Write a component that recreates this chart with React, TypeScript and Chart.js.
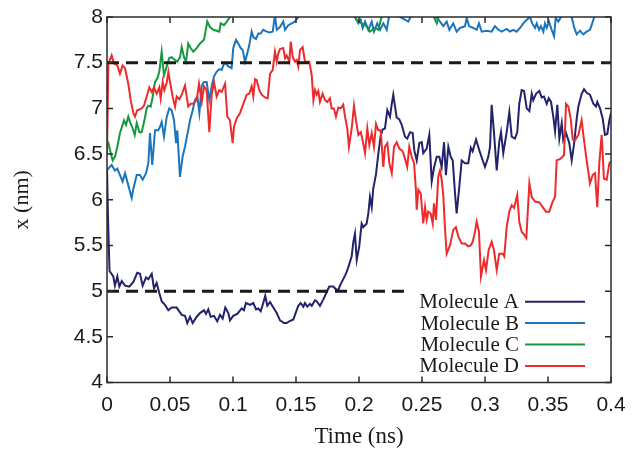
import React, { useEffect, useRef } from 'react';
import { Chart, registerables } from 'chart.js';

Chart.register(...registerables);

// ---- data: [time (ns), x (nm)] ----
const moleculeA: [number, number][] = [
  [0, 6.35], [0.0008, 5.8], [0.002, 5.22], [0.005, 5.16], [0.0063, 5.06], [0.0082, 5.16], [0.0098, 5.05], [0.0117, 5.11],
  [0.0143, 5.06], [0.0177, 5.05], [0.0209, 5.1], [0.024, 5.2], [0.0262, 5.19], [0.0283, 5.06], [0.031, 5.15], [0.0328, 5.13],
  [0.0355, 5.19], [0.0373, 5.03], [0.0394, 5.09], [0.0415, 4.98], [0.0434, 4.89], [0.046, 4.85], [0.0487, 4.79], [0.0513, 4.82],
  [0.0553, 4.82], [0.0593, 4.74], [0.0619, 4.73], [0.0637, 4.65], [0.0659, 4.72], [0.068, 4.65], [0.0712, 4.72], [0.0738, 4.76],
  [0.077, 4.79], [0.0786, 4.75], [0.0804, 4.8], [0.0823, 4.72], [0.0849, 4.73], [0.0875, 4.67], [0.0897, 4.74], [0.0918, 4.7],
  [0.0939, 4.82], [0.0963, 4.76], [0.0976, 4.68], [0.1002, 4.73], [0.1034, 4.75], [0.1069, 4.81], [0.1087, 4.79], [0.1103, 4.87],
  [0.1135, 4.85], [0.1161, 4.87], [0.1183, 4.8], [0.1201, 4.81], [0.122, 4.78], [0.124, 4.87], [0.1256, 4.95], [0.1272, 4.84],
  [0.1294, 4.88], [0.132, 4.82], [0.1347, 4.76], [0.1373, 4.68], [0.1405, 4.65], [0.1426, 4.65], [0.1447, 4.67], [0.1479, 4.69],
  [0.1518, 4.84], [0.1537, 4.87], [0.1558, 4.83], [0.1571, 4.87], [0.159, 4.83], [0.1611, 4.86], [0.1625, 4.84], [0.1651, 4.9],
  [0.1664, 4.89], [0.169, 4.84], [0.1717, 4.91], [0.1744, 4.99], [0.1764, 5.05], [0.1796, 5.05], [0.1817, 5.02], [0.1836, 5.01],
  [0.1849, 5.06], [0.1871, 5.12], [0.1889, 5.17], [0.1902, 5.21], [0.1915, 5.26], [0.1942, 5.38], [0.1955, 5.54], [0.1968, 5.63],
  [0.1982, 5.34], [0.2002, 5.49], [0.2021, 5.74], [0.2034, 5.7], [0.2061, 5.74], [0.2074, 5.85], [0.2087, 6.03], [0.2101, 5.92],
  [0.2113, 6.12], [0.2135, 6.28], [0.2153, 6.5], [0.2172, 6.7], [0.2188, 6.77], [0.2206, 6.78], [0.2225, 6.98], [0.2246, 6.91],
  [0.226, 7.05], [0.2272, 7.15], [0.2286, 7.02], [0.2299, 6.9], [0.232, 6.88], [0.2339, 6.82], [0.2365, 6.69], [0.2383, 6.67],
  [0.2405, 6.74], [0.2426, 6.73], [0.2439, 6.54], [0.2458, 6.43], [0.2479, 6.62], [0.2498, 6.63], [0.251, 6.51], [0.2537, 6.56],
  [0.2558, 6.71], [0.2577, 6.2], [0.2595, 6.35], [0.2617, 6.47], [0.2637, 6.47], [0.2656, 6.36], [0.2675, 6.63], [0.269, 6.27],
  [0.2709, 6.58], [0.2728, 6.47], [0.2744, 6.43], [0.2762, 6.07], [0.2775, 5.85], [0.2796, 6.14], [0.2815, 6.43], [0.2841, 6.4],
  [0.2867, 6.4], [0.2887, 6.57], [0.2902, 6.53], [0.2929, 6.66], [0.2955, 6.54], [0.2982, 6.43], [0.3, 6.36], [0.3026, 6.47],
  [0.304, 6.58], [0.3053, 7.04], [0.3071, 6.74], [0.3093, 6.32], [0.3113, 6.63], [0.3127, 6.74], [0.3145, 6.51], [0.3172, 6.74],
  [0.3193, 6.96], [0.3212, 6.69], [0.3238, 6.67], [0.3256, 6.74], [0.3272, 7.05], [0.3291, 7.2], [0.331, 7.19], [0.3331, 7.0],
  [0.3352, 6.97], [0.3371, 7.16], [0.3383, 7.09], [0.3405, 7.16], [0.3431, 7.19], [0.345, 7.12], [0.3468, 7.13], [0.349, 7.05],
  [0.3506, 7.11], [0.3524, 7.07], [0.3542, 6.91], [0.3556, 6.75], [0.3574, 7.04], [0.359, 6.67], [0.3609, 6.84], [0.3621, 6.65],
  [0.3643, 6.73], [0.3669, 6.62], [0.3688, 6.43], [0.3706, 6.6], [0.3728, 6.89], [0.3741, 7.02], [0.3767, 7.16], [0.3786, 7.21],
  [0.3807, 7.17], [0.3833, 7.15], [0.386, 7.05], [0.3881, 7.02], [0.3891, 7.07], [0.3913, 7.0], [0.3934, 6.89], [0.3952, 6.71],
  [0.3971, 6.72], [0.3987, 6.87], [0.4, 6.95],
];

const moleculeB: [number, number][] = [
  [0, 6.32], [0.0011, 6.34], [0.0037, 6.38], [0.0063, 6.32], [0.0082, 6.34], [0.0103, 6.27], [0.0124, 6.2], [0.0143, 6.29],
  [0.0169, 6.16], [0.0196, 6.02], [0.0209, 6.12], [0.0236, 6.27], [0.0262, 6.27], [0.0283, 6.22], [0.031, 6.29], [0.0328, 6.4],
  [0.0341, 6.73], [0.0359, 6.38], [0.0381, 6.76], [0.0407, 6.76], [0.0421, 6.8], [0.0434, 6.85], [0.0452, 6.69], [0.0474, 6.91],
  [0.0494, 7.0], [0.0513, 6.98], [0.0532, 6.87], [0.0548, 6.62], [0.0558, 6.76], [0.0579, 6.25], [0.06, 6.47], [0.0619, 6.58],
  [0.0637, 6.71], [0.0659, 6.87], [0.068, 6.98], [0.0698, 7.09], [0.0717, 7.13], [0.0733, 6.95], [0.0752, 7.25], [0.077, 7.29],
  [0.0791, 7.29], [0.0812, 7.09], [0.0831, 7.24], [0.0849, 7.35], [0.087, 7.4], [0.0891, 7.43], [0.091, 7.42], [0.0929, 7.49],
  [0.0944, 7.49], [0.0963, 7.46], [0.0989, 7.44], [0.1002, 7.66], [0.1024, 7.75], [0.1042, 7.71], [0.1061, 7.66], [0.1077, 7.64],
  [0.1095, 7.51], [0.1109, 7.58], [0.1129, 7.69], [0.1148, 7.84], [0.1161, 7.78], [0.1183, 7.76], [0.1201, 7.82], [0.122, 7.82],
  [0.124, 7.86], [0.1267, 7.84], [0.1294, 7.83], [0.1315, 7.84], [0.1333, 8.02], [0.1347, 7.86], [0.1373, 7.89], [0.1399, 7.95],
  [0.1413, 7.86], [0.1439, 7.91], [0.1466, 7.93], [0.1492, 7.95], [0.1518, 8.0], [0.1545, 8.08], [0.16, 8.2], [0.17, 8.25],
  [0.18, 8.2], [0.19, 8.12], [0.1955, 8.04], [0.1968, 8.0], [0.1995, 7.93], [0.2014, 7.97], [0.2029, 7.88], [0.2048, 7.95],
  [0.2074, 7.86], [0.2101, 7.95], [0.2119, 7.84], [0.2145, 7.93], [0.2167, 7.86], [0.2193, 7.93], [0.222, 7.86], [0.2238, 8.0],
  [0.2265, 8.06], [0.2299, 8.04], [0.2325, 8.0], [0.2365, 7.97], [0.2391, 7.95], [0.2405, 7.99], [0.245, 8.05], [0.25, 8.03],
  [0.255, 8.05], [0.2589, 8.01], [0.2617, 7.99], [0.2643, 7.95], [0.2669, 7.9], [0.2696, 7.95], [0.2717, 7.86], [0.2748, 7.93],
  [0.2775, 7.84], [0.2802, 7.88], [0.2841, 7.9], [0.2855, 7.99], [0.2873, 7.9], [0.2907, 7.88], [0.2934, 7.86], [0.2952, 7.93],
  [0.2974, 7.84], [0.3013, 7.85], [0.3053, 7.84], [0.3079, 7.9], [0.3106, 7.86], [0.3132, 7.84], [0.3172, 7.87], [0.3198, 7.84],
  [0.3225, 7.86], [0.3251, 7.84], [0.3278, 7.88], [0.3304, 7.93], [0.3331, 7.97], [0.3357, 8.0], [0.3375, 7.93], [0.3397, 7.88],
  [0.341, 7.93], [0.3429, 7.86], [0.3444, 7.9], [0.3463, 7.84], [0.3476, 7.93], [0.349, 7.88], [0.3508, 7.95], [0.3529, 7.86],
  [0.3548, 7.79], [0.3561, 7.99], [0.3582, 7.95], [0.3603, 8.0], [0.363, 8.06], [0.366, 8.05], [0.3688, 8.0], [0.3709, 7.88],
  [0.3728, 7.81], [0.3754, 7.85], [0.378, 7.81], [0.3807, 7.84], [0.3833, 7.86], [0.3851, 7.93], [0.3867, 8.0], [0.39, 8.1],
  [0.395, 8.15], [0.4, 8.15],
];

const moleculeC: [number, number][] = [
  [0, 6.6], [0.0011, 6.62], [0.003, 6.51], [0.0045, 6.43], [0.0063, 6.47], [0.0082, 6.58], [0.0103, 6.73], [0.0124, 6.82],
  [0.0135, 6.87], [0.0151, 6.82], [0.0169, 6.91], [0.0183, 6.85], [0.0204, 6.78], [0.022, 6.71], [0.0236, 6.84], [0.0257, 6.74],
  [0.0275, 6.74], [0.0294, 6.85], [0.0315, 7.0], [0.0328, 7.03], [0.0347, 7.02], [0.0363, 7.13], [0.0381, 7.29], [0.04, 7.33],
  [0.0415, 7.4], [0.0434, 7.62], [0.0452, 7.36], [0.0474, 7.46], [0.0494, 7.55], [0.0513, 7.56], [0.054, 7.53], [0.0558, 7.51],
  [0.0579, 7.56], [0.0593, 7.67], [0.0611, 7.56], [0.0627, 7.51], [0.0645, 7.71], [0.0664, 7.66], [0.0685, 7.62], [0.0712, 7.66],
  [0.0738, 7.71], [0.077, 7.75], [0.0796, 7.95], [0.0817, 7.89], [0.0844, 7.86], [0.087, 7.85], [0.0891, 7.84], [0.0902, 7.93],
  [0.0929, 7.91], [0.0951, 7.95], [0.0976, 8.0], [0.1, 8.1], [0.12, 8.3], [0.15, 8.35], [0.18, 8.25], [0.19, 8.1],
  [0.1968, 8.0], [0.1982, 7.97], [0.2021, 7.93], [0.2061, 7.9], [0.2087, 7.84], [0.2127, 7.88], [0.2153, 7.86], [0.2177, 7.99],
  [0.2199, 8.05], [0.225, 8.12], [0.24, 8.15], [0.255, 8.08], [0.2595, 8.0], [0.2617, 7.93], [0.2637, 8.02], [0.27, 8.15],
  [0.3, 8.3], [0.35, 8.3], [0.4, 8.3],
];

const moleculeD: [number, number][] = [
  [0, 6.5], [0.0011, 7.49], [0.0037, 7.58], [0.0056, 7.49], [0.0082, 7.47], [0.0103, 7.38], [0.0124, 7.47], [0.0143, 7.44],
  [0.0169, 7.27], [0.0188, 7.09], [0.0209, 6.95], [0.0222, 6.91], [0.024, 6.98], [0.0275, 7.0], [0.0294, 7.03], [0.0315, 7.13],
  [0.0336, 7.23], [0.0355, 7.18], [0.0373, 7.23], [0.0394, 7.16], [0.0415, 7.23], [0.0426, 7.11], [0.0442, 7.29], [0.0455, 7.2],
  [0.0474, 7.28], [0.0487, 7.4], [0.05, 7.29], [0.0521, 7.13], [0.054, 7.02], [0.0553, 7.13], [0.0574, 7.1], [0.0593, 7.15],
  [0.0619, 7.25], [0.0645, 7.02], [0.0664, 7.05], [0.0685, 7.05], [0.0712, 7.09], [0.073, 7.27], [0.0752, 7.07], [0.077, 7.24],
  [0.0791, 7.2], [0.0812, 6.74], [0.0831, 7.15], [0.0849, 7.29], [0.087, 7.13], [0.0891, 7.2], [0.091, 7.18], [0.0937, 7.27],
  [0.0955, 6.91], [0.0976, 6.87], [0.0997, 6.62], [0.1008, 6.8], [0.1029, 6.89], [0.1056, 6.95], [0.1082, 7.05], [0.1109, 7.15],
  [0.1129, 7.16], [0.1148, 7.24], [0.1161, 7.13], [0.1175, 7.32], [0.1188, 7.31], [0.1209, 7.2], [0.1228, 7.15], [0.1254, 7.12],
  [0.1275, 7.11], [0.1294, 7.38], [0.1315, 7.42], [0.1333, 7.62], [0.1347, 7.51], [0.1359, 7.6], [0.1373, 7.65], [0.1399, 7.66],
  [0.1413, 7.55], [0.1426, 7.58], [0.1447, 7.51], [0.1458, 7.73], [0.1474, 7.56], [0.1492, 7.51], [0.1505, 7.53], [0.1518, 7.46],
  [0.1532, 7.64], [0.1553, 7.67], [0.1571, 7.51], [0.1606, 7.51], [0.1625, 7.36], [0.1638, 7.09], [0.1651, 7.2], [0.1664, 7.15],
  [0.1677, 7.19], [0.169, 7.07], [0.1711, 7.16], [0.173, 7.09], [0.1748, 7.07], [0.1769, 7.11], [0.1783, 7.0], [0.1801, 7.0],
  [0.1817, 6.91], [0.1836, 7.01], [0.1855, 7.0], [0.1875, 7.04], [0.1889, 6.91], [0.1907, 6.78], [0.192, 6.58], [0.1942, 6.78],
  [0.196, 7.03], [0.1976, 6.87], [0.1995, 6.71], [0.2014, 6.74], [0.2029, 6.65], [0.2048, 6.51], [0.2066, 6.78], [0.2082, 6.6],
  [0.2101, 6.73], [0.2119, 6.58], [0.2135, 6.83], [0.2153, 6.76], [0.2172, 6.76], [0.2193, 6.36], [0.2206, 6.58], [0.2225, 6.62],
  [0.2241, 6.4], [0.226, 6.29], [0.2278, 6.58], [0.2299, 6.63], [0.232, 6.56], [0.2347, 6.53], [0.2365, 6.45], [0.2383, 6.36],
  [0.2399, 6.58], [0.2418, 6.47], [0.2437, 6.4], [0.2452, 6.1], [0.2458, 5.89], [0.2471, 6.11], [0.249, 6.07], [0.251, 5.74],
  [0.2524, 5.92], [0.2537, 5.78], [0.255, 5.87], [0.2569, 5.85], [0.2585, 5.74], [0.2595, 5.96], [0.2611, 5.78], [0.2629, 6.25],
  [0.2643, 6.32], [0.2656, 6.22], [0.2669, 6.05], [0.2683, 5.67], [0.2696, 5.41], [0.2722, 5.5], [0.2748, 5.67], [0.2769, 5.7],
  [0.2788, 5.6], [0.2815, 5.52], [0.2841, 5.52], [0.2867, 5.49], [0.2887, 5.5], [0.2902, 5.54], [0.2918, 5.63], [0.2934, 5.76],
  [0.2952, 5.65], [0.2968, 5.16], [0.2992, 5.34], [0.3008, 5.23], [0.3029, 5.45], [0.3053, 5.54], [0.3071, 5.45], [0.3093, 5.23],
  [0.3113, 5.41], [0.314, 5.41], [0.3153, 5.38], [0.3172, 5.7], [0.3193, 5.87], [0.3212, 5.94], [0.3231, 5.91], [0.3256, 6.05],
  [0.3272, 5.76], [0.3291, 5.65], [0.331, 5.62], [0.3328, 5.58], [0.3352, 6.18], [0.3371, 6.03], [0.3397, 5.98], [0.3431, 5.97],
  [0.3458, 5.92], [0.3484, 5.87], [0.351, 5.87], [0.3537, 5.98], [0.3556, 6.03], [0.3569, 6.43], [0.3601, 6.45], [0.3627, 6.49],
  [0.3643, 7.05], [0.3661, 7.02], [0.368, 6.89], [0.3696, 6.66], [0.3714, 6.65], [0.3741, 6.71], [0.3767, 6.87], [0.3786, 6.65],
  [0.3807, 6.43], [0.3833, 6.18], [0.3854, 6.27], [0.3873, 6.29], [0.3891, 5.92], [0.3907, 6.4], [0.3926, 6.71], [0.3944, 6.23],
  [0.3966, 6.22], [0.3987, 6.4], [0.4, 6.42],
];

// reference (dashed) levels and where each ends on the time axis
const dashLevels = [7.5, 5];
const dashEnds = [0.4, 0.239];

const xTickValues = [0, 0.05, 0.1, 0.15, 0.2, 0.25, 0.3, 0.35, 0.4];
const xTickLabels = ['0', '0.05', '0.1', '0.15', '0.2', '0.25', '0.3', '0.35', '0.4'];
const yTickValues = [4, 4.5, 5, 5.5, 6, 6.5, 7, 7.5, 8];
const yTickLabels = ['4', '4.5', '5', '5.5', '6', '6.5', '7', '7.5', '8'];

const seriesNames = ['Molecule A', 'Molecule B', 'Molecule C', 'Molecule D'];
const seriesColors = ['#23236b', '#1c75bc', '#16983f', '#ee2b2c'];
const seriesData = [moleculeA, moleculeB, moleculeC, moleculeD];

const SANS = '"Liberation Sans", Arial, sans-serif';
const SERIF = '"Liberation Serif", "Times New Roman", serif';

const framePlugin = {
  id: 'frameTicks',
  afterDatasetsDraw(chart: any) {
    const { ctx, chartArea } = chart;
    const { left, right, top, bottom } = chartArea;
    const xs = chart.scales.x;
    const ys = chart.scales.y;
    ctx.save();
    ctx.strokeStyle = '#2b2b2b';
    ctx.lineWidth = 1.5;
    ctx.strokeRect(left, top, right - left, bottom - top);
    ctx.beginPath();
    const tl = 6;
    xTickValues.forEach((v) => {
      const px = xs.getPixelForValue(v);
      ctx.moveTo(px, bottom);
      ctx.lineTo(px, bottom - tl);
      ctx.moveTo(px, top);
      ctx.lineTo(px, top + tl);
    });
    yTickValues.forEach((v) => {
      const py = ys.getPixelForValue(v);
      ctx.moveTo(left, py);
      ctx.lineTo(left + tl, py);
      ctx.moveTo(right, py);
      ctx.lineTo(right - tl, py);
    });
    ctx.stroke();
    ctx.restore();
  },
};

const keyPlugin = {
  id: 'keyLegend',
  afterDraw(chart: any) {
    const { ctx } = chart;
    ctx.save();
    ctx.font = `21px ${SERIF}`;
    ctx.textAlign = 'right';
    ctx.textBaseline = 'alphabetic';
    seriesNames.forEach((name, i) => {
      const yLine = 301.7 + i * 21.4;
      ctx.fillStyle = '#1a1a1a';
      ctx.fillText(name, 519, yLine + 6.5);
      ctx.strokeStyle = seriesColors[i];
      ctx.lineWidth = 2;
      ctx.beginPath();
      ctx.moveTo(525, yLine);
      ctx.lineTo(585, yLine);
      ctx.stroke();
    });
    ctx.restore();
  },
};

export default function App() {
  const canvasRef = useRef<HTMLCanvasElement | null>(null);

  useEffect(() => {
    const canvas = canvasRef.current;
    if (!canvas) return;

    const lineSets = seriesData.map((pts, i) => ({
      label: seriesNames[i],
      data: pts.map(([t, v]) => ({ x: t, y: v })),
      borderColor: seriesColors[i],
      backgroundColor: seriesColors[i],
      borderWidth: 2,
      pointRadius: 0,
      tension: 0,
      fill: false,
      order: 4 - i,
    }));
    const dashSets = dashLevels.map((lvl, i) => ({
      label: 'ref' + i,
      data: [
        { x: 0, y: lvl },
        { x: dashEnds[i], y: lvl },
      ],
      borderColor: '#1a1a1a',
      borderWidth: 3,
      borderDash: [12, 7],
      pointRadius: 0,
      fill: false,
      order: 0,
    }));

    const chart = new Chart(canvas, {
      type: 'line',
      data: { datasets: [...lineSets, ...dashSets] as any },
      options: {
        responsive: false,
        animation: false,
        layout: { padding: { top: 17, right: 22, left: 0, bottom: 0 } },
        plugins: { legend: { display: false }, tooltip: { enabled: false } },
        scales: {
          x: {
            type: 'linear',
            min: 0,
            max: 0.4,
            afterFit: (s: any) => {
              s.height = 68.5;
              s.paddingLeft = 0;
              s.paddingRight = 0;
            },
            afterBuildTicks: (s: any) => {
              s.ticks = xTickValues.map((v) => ({ value: v }));
            },
            ticks: {
              callback: (_v: any, i: number) => xTickLabels[i],
              font: { family: SANS, size: 21 },
              color: '#1a1a1a',
              padding: 10,
              maxRotation: 0,
              autoSkip: false,
            },
            grid: { display: false, drawTicks: false },
            border: { display: false },
            title: {
              display: true,
              text: 'Time (ns)',
              font: { family: SERIF, size: 23 },
              color: '#1a1a1a',
              padding: { top: 0, bottom: 0 },
            },
          },
          y: {
            type: 'linear',
            min: 4,
            max: 8,
            afterFit: (s: any) => {
              s.width = 107;
              s.paddingTop = 0;
              s.paddingBottom = 0;
            },
            afterBuildTicks: (s: any) => {
              s.ticks = yTickValues.map((v) => ({ value: v }));
            },
            ticks: {
              callback: (_v: any, i: number) => yTickLabels[i],
              font: { family: SANS, size: 21 },
              color: '#1a1a1a',
              padding: 4,
              autoSkip: false,
            },
            grid: { display: false, drawTicks: false },
            border: { display: false },
            title: {
              display: true,
              text: 'x (nm)',
              font: { family: SERIF, size: 22 },
              color: '#1a1a1a',
              padding: { top: 9, bottom: 0 },
            },
          },
        },
      } as any,
      plugins: [framePlugin, keyPlugin],
    });

    return () => chart.destroy();
  }, []);

  return (
    <div style={{ position: 'fixed', left: 0, top: 0, width: 633, height: 451, background: '#fff' }}>
      <canvas ref={canvasRef} width={633} height={451} style={{ display: 'block' }} />
    </div>
  );
}
